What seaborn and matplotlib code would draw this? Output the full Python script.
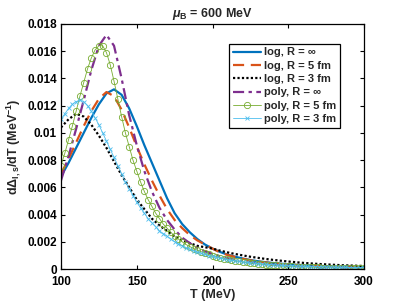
import matplotlib
matplotlib.use("Agg")
import matplotlib.pyplot as plt
import numpy as np
import pandas as pd
import seaborn as sns

# temperature grids (MeV)
T_line = [100 + 5 * i for i in range(41)]
T_mark = [100 + 2.5 * i for i in range(81)]

log_inf = [0.0068, 0.0078, 0.0089, 0.0100, 0.0111, 0.0121, 0.0129, 0.0132, 0.0128, 0.0118,
           0.0105, 0.0091, 0.0078, 0.0065, 0.0052, 0.0041, 0.0033, 0.0027, 0.0022, 0.0018,
           0.0015, 0.00125, 0.00105, 0.0009, 0.00077, 0.00066, 0.00057, 0.0005, 0.00044, 0.00039,
           0.00035, 0.00031, 0.00028, 0.00025, 0.00023, 0.00021, 0.00019, 0.00017, 0.00016, 0.00015,
           0.00014]
log_5fm = [0.0070, 0.0081, 0.0093, 0.0105, 0.0116, 0.0125, 0.0130, 0.0127, 0.0117, 0.0104,
           0.0090, 0.0077, 0.0065, 0.0054, 0.0044, 0.0036, 0.0030, 0.0025, 0.0021, 0.0018,
           0.0015, 0.00122, 0.00103, 0.00088, 0.00075, 0.00064, 0.00055, 0.00048, 0.00042, 0.00037,
           0.00033, 0.0003, 0.00027, 0.00024, 0.00022, 0.0002, 0.00018, 0.00016, 0.00015, 0.00014,
           0.00013]
log_3fm = [0.0104, 0.0110, 0.0114, 0.0112, 0.0106, 0.0098, 0.0089, 0.0079, 0.0069, 0.0060,
           0.0051, 0.0044, 0.0037, 0.0032, 0.0028, 0.0024, 0.0021, 0.0019, 0.0017, 0.0016,
           0.0015, 0.00135, 0.00122, 0.0011, 0.001, 0.0009, 0.00082, 0.00074, 0.00067, 0.00061,
           0.00055, 0.0005, 0.00045, 0.00041, 0.00037, 0.00034, 0.00031, 0.00028, 0.00026, 0.00024,
           0.00022]
poly_inf = [0.0065, 0.0083, 0.0103, 0.0124, 0.0146, 0.0164, 0.0172, 0.0164, 0.0140, 0.0113,
            0.0091, 0.0072, 0.0057, 0.0045, 0.0036, 0.0029, 0.0023, 0.0019, 0.00155, 0.0013,
            0.0011, 0.00093, 0.00079, 0.00067, 0.00057, 0.00049, 0.00042, 0.00036, 0.00031, 0.00027,
            0.00024, 0.00021, 0.00018, 0.00016, 0.00014, 0.00013, 0.00011, 0.0001, 0.00009, 0.00008,
            0.00007]
poly_5fm = [0.0076, 0.0085, 0.0095, 0.0105, 0.0116, 0.0127, 0.0137, 0.0147, 0.0155, 0.0161,
            0.0164, 0.0164, 0.0159, 0.0150, 0.0138, 0.0125, 0.0112, 0.0100, 0.0090, 0.0080,
            0.0072, 0.0064, 0.0057, 0.0051, 0.0046, 0.0041, 0.0037, 0.0033, 0.0030, 0.0027,
            0.0024, 0.0022, 0.0020, 0.0018, 0.00165, 0.0015, 0.00138, 0.00127, 0.00117, 0.00107,
            0.00099, 0.00091, 0.00084, 0.00077, 0.00071, 0.00066, 0.00061, 0.00056, 0.00052, 0.00048,
            0.00044, 0.00041, 0.00038, 0.00035, 0.00032, 0.0003, 0.00028, 0.00026, 0.00024, 0.00022,
            0.00021, 0.00019, 0.00018, 0.00017, 0.00016, 0.00015, 0.00014, 0.00013, 0.00012, 0.00011,
            0.00011, 0.0001, 0.0001, 0.00009, 0.00009, 0.00008, 0.00008, 0.00007, 0.00007, 0.00007,
            0.00006]
poly_3fm = [0.0110, 0.0114, 0.0118, 0.0121, 0.0123, 0.0124, 0.0123, 0.0120, 0.0116, 0.0111,
            0.0106, 0.0100, 0.0094, 0.0088, 0.0082, 0.0076, 0.0070, 0.0064, 0.0059, 0.0054,
            0.0049, 0.0045, 0.0041, 0.0037, 0.0034, 0.0031, 0.0028, 0.0026, 0.0024, 0.0022,
            0.0020, 0.00185, 0.0017, 0.00157, 0.00145, 0.00134, 0.00124, 0.00115, 0.00107, 0.00099,
            0.00092, 0.00086, 0.0008, 0.00074, 0.00069, 0.00064, 0.0006, 0.00056, 0.00052, 0.00049,
            0.00046, 0.00043, 0.0004, 0.00037, 0.00035, 0.00033, 0.00031, 0.00029, 0.00027, 0.00026,
            0.00024, 0.00023, 0.00022, 0.00021, 0.0002, 0.00019, 0.00018, 0.00017, 0.00016, 0.00015,
            0.00015, 0.00014, 0.00013, 0.00013, 0.00012, 0.00012, 0.00011, 0.00011, 0.0001, 0.0001,
            0.0001]

x_ticks = [100, 150, 200, 250, 300]
y_ticks = [0, 0.002, 0.004, 0.006, 0.008, 0.01, 0.012, 0.014, 0.016, 0.018]
y_tick_labels = ['0', '0.002', '0.004', '0.006', '0.008', '0.01', '0.012', '0.014', '0.016', '0.018']

sns.set_style("white")
plt.rcParams['font.family'] = ['Liberation Sans', 'DejaVu Sans']
plt.rcParams['font.weight'] = 'bold'
plt.rcParams['mathtext.fontset'] = 'custom'
plt.rcParams['mathtext.rm'] = 'Liberation Sans:bold'
plt.rcParams['mathtext.bf'] = 'Liberation Sans:bold'
plt.rcParams['mathtext.it'] = 'Liberation Sans:bold:italic'

fig = plt.figure(figsize=(4.03, 3.03), dpi=100)
ax = fig.add_axes([61 / 403, 34 / 303, 303 / 403, 245 / 303])

lines = pd.DataFrame({'T': T_line, 'log_inf': log_inf, 'log_5fm': log_5fm,
                      'log_3fm': log_3fm, 'poly_inf': poly_inf})
marks = pd.DataFrame({'T': T_mark, 'poly_5fm': poly_5fm, 'poly_3fm': poly_3fm})

sns.lineplot(data=lines, x='T', y='log_inf', ax=ax, color='#0072BD', lw=1.6,
             label='log, R = \u221e')
sns.lineplot(data=lines, x='T', y='log_5fm', ax=ax, color='#D95319', lw=1.6,
             ls=(0, (5, 3)), label='log, R = 5 fm')
sns.lineplot(data=lines, x='T', y='log_3fm', ax=ax, color='black', lw=1.6,
             ls=(0, (1, 1)), label='log, R = 3 fm')
sns.lineplot(data=lines, x='T', y='poly_inf', ax=ax, color='#7E2F8E', lw=1.6,
             ls=(0, (5, 2, 1.5, 2)), label='poly, R = \u221e')
sns.lineplot(data=marks, x='T', y='poly_5fm', ax=ax, color='#77AC30', lw=0.6,
             marker='o', ms=4.5, mfc='none', mec='#77AC30', mew=0.6, label='poly, R = 5 fm')
sns.lineplot(data=marks, x='T', y='poly_3fm', ax=ax, color='#4DBEEE', lw=0.6,
             marker='x', ms=3.5, mec='#4DBEEE', mew=0.6, label='poly, R = 3 fm')

ax.set_xlim(100, 300)
ax.set_ylim(0, 0.018)
ax.set_xticks(x_ticks)
ax.set_xticklabels([str(t) for t in x_ticks])
ax.set_yticks(y_ticks)
ax.set_yticklabels(y_tick_labels)
ax.tick_params(direction='in', length=3, width=0.8, labelsize=8.5, pad=3,
               top=True, right=True, bottom=True, left=True, colors='black')
ax.tick_params(axis='x', pad=5)
for s in ax.spines.values():
    s.set_color('black')
    s.set_linewidth(0.9)

ax.set_xlabel('T (MeV)', fontsize=9, fontweight='bold', labelpad=1)
ax.set_ylabel(r'd$\Delta_{\mathrm{I,s}}$/dT (MeV$^{\mathrm{-1}}$)', fontsize=9,
              fontweight='bold', labelpad=3)
ax.set_title(r'$\mu_{\mathrm{B}}$ = 600 MeV', fontsize=9, fontweight='bold', pad=5)

leg = ax.legend(loc='upper right', bbox_to_anchor=(0.92, 0.92), fontsize=8,
                frameon=True, fancybox=False, framealpha=1, edgecolor='black',
                handlelength=2.6, handletextpad=0.2, borderpad=0.35, labelspacing=0.3,
                borderaxespad=0)
leg.get_frame().set_linewidth(0.9)

fig.savefig('out.png', dpi=100)
